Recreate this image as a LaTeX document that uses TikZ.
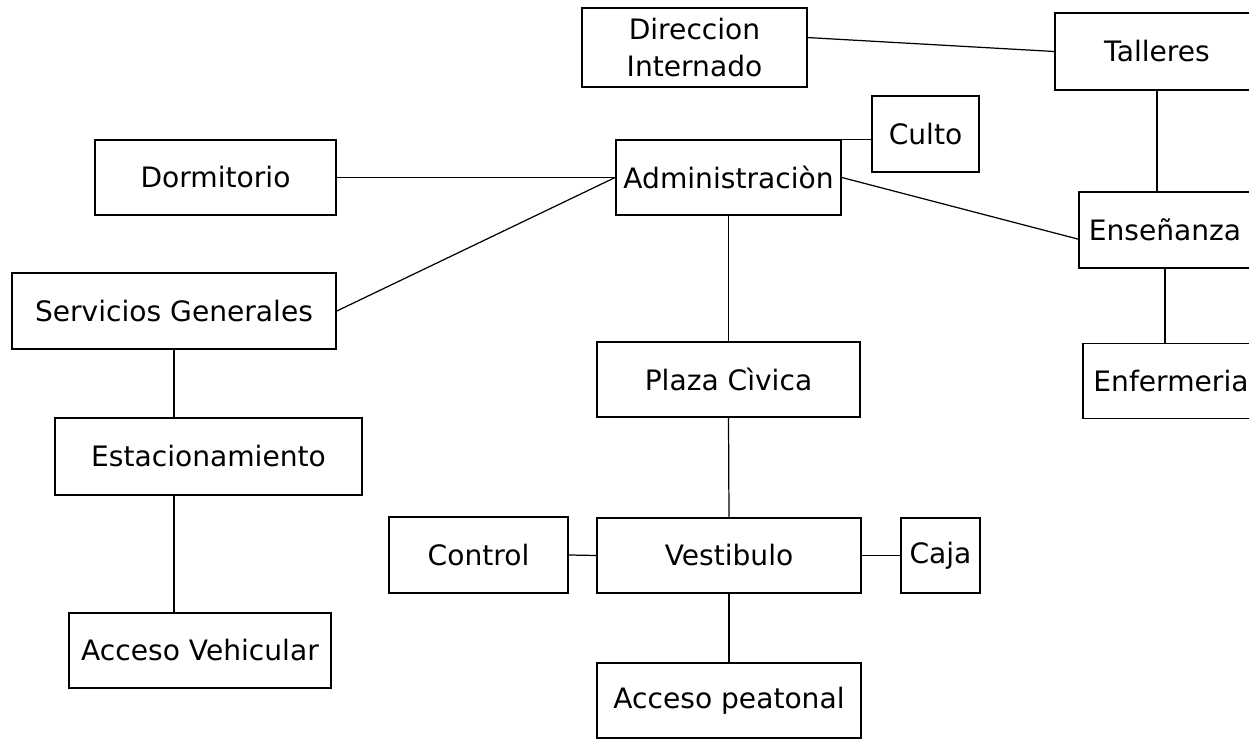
\documentclass[tikz,border=0pt]{standalone}
\usepackage{fontspec}
\setmainfont{DejaVu Sans}
\begin{document}
\begin{tikzpicture}[x=0.02cm, y=-0.02cm,
    bloque/.style={draw, line width=1pt, inner sep=0pt, align=center,
        minimum height=1.5cm, font=\fontsize{16}{21}\selectfont},
    enlace/.style={line width=0.7pt}]
    % Marco (pixeles de la imagen)
    \clip (0,0) rectangle (1249,739);

    % Bloques
    \node[bloque, minimum width=4.5cm, minimum height=1.58cm] (dir) at (694.5,47.5) {Direccion\\Internado};
    \node[bloque, minimum width=4.08cm, minimum height=1.54cm] (tall) at (1157,51.5) {Talleres};
    \node[bloque, minimum width=2.14cm, minimum height=1.52cm] (culto) at (925.5,134) {Culto};
    \node[bloque, minimum width=4.5cm] (adm) at (728.5,177.5) {Administraciòn};
    \node[bloque, minimum width=4.82cm] (dorm) at (215.5,177.5) {Dormitorio};
    \node[bloque, minimum width=3.44cm, minimum height=1.52cm] (ens) at (1165,230) {Enseñanza};
    \node[bloque, minimum width=3.52cm] (enf) at (1171,381) {Enfermeria};
    \node[bloque, minimum width=6.48cm, minimum height=1.52cm] (serv) at (174,311) {Servicios Generales};
    \node[bloque, minimum width=6.14cm, minimum height=1.54cm] (est) at (208.5,456.5) {Estacionamiento};
    \node[bloque, minimum width=5.24cm] (accv) at (200,650.5) {Acceso Vehicular};
    \node[bloque, minimum width=5.26cm] (plaza) at (728.5,379.5) {Plaza Cìvica};
    \node[bloque, minimum width=5.28cm] (vest) at (729,555.5) {Vestibulo};
    \node[bloque, minimum width=3.58cm, minimum height=1.52cm] (ctrl) at (478.5,555) {Control};
    \node[bloque, minimum width=1.58cm] (caja) at (940.5,555.5) {Caja};
    \node[bloque, minimum width=5.28cm] (accp) at (729,700.5) {Acceso peatonal};

    % Enlaces
    \draw[enlace] (dir.5) -- (tall.west);
    \draw[enlace] (dorm.east) -- (adm.west);
    \draw[enlace] (serv.east) -- (adm.west);
    \draw[enlace] (adm.north east) -- (adm.north east -| culto.west);
    \draw[enlace] (adm.east) -- (ens.186);
    \draw[enlace] (tall.south) -- (tall.south |- ens.north);
    \draw[enlace] (ens.south) -- (ens.south |- enf.north);
    \draw[enlace] (serv.south) -- (serv.south |- est.north);
    \draw[enlace] (serv.south |- est.south) -- (serv.south |- accv.north);
    \draw[enlace] (adm.south) -- (plaza.north);
    \draw[enlace] (plaza.south) -- (vest.north);
    \draw[enlace] (vest.south) -- (accp.north);
    \draw[enlace] (ctrl.east) -- (vest.west);
    \draw[enlace] (vest.east) -- (caja.west);

\end{tikzpicture}
\end{document}
